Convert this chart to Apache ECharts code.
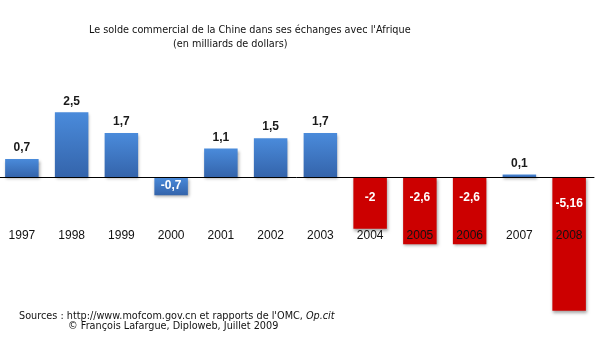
<!DOCTYPE html>
<html>
<head>
<meta charset="utf-8">
<script src="https://cdn.jsdelivr.net/npm/echarts@6/dist/echarts.min.js"></script>
<style>html,body{margin:0;padding:0;background:#fff}#c{width:600px;height:355px}</style>
</head>
<body>
<div id="c"></div>
<script>
var years = ['1997','1998','1999','2000','2001','2002','2003','2004','2005','2006','2007','2008'];
var balance = [0.7, 2.5, 1.7, -0.7, 1.1, 1.5, 1.7, -2, -2.6, -2.6, 0.1, -5.16];
var titleLine1 = "Le solde commercial de la Chine dans ses échanges avec l'Afrique";
var titleLine2 = "(en milliards de dollars)";
var sourceText = "Sources : http://www.mofcom.gov.cn et rapports de l'OMC, ";
var sourceItalic = "Op.cit";
var creditText = "© François Lafargue, Diploweb, Juillet 2009";

function fmt(v){ return String(v).replace('.', ','); }

var blue = new echarts.graphic.LinearGradient(0,0,0,1,[{offset:0,color:'#4a8bdb'},{offset:1,color:'#3464ab'}]);
var red = '#cc0000';

var data = balance.map(function(v){
  var neg = v < 0;
  var label;
  if (!neg) {
    label = {position:'top', distance:5, color:'#1a1a1a'};
  } else if (v > -1) {
    label = {position:'inside', color:'#fff'};
  } else {
    label = {position:'insideTop', distance: v < -4 ? 21 : 15, color:'#fff'};
  }
  return {
    value: v,
    itemStyle: {color: neg && v <= -1 ? red : blue},
    label: label
  };
});

var txt = {fontFamily:'DejaVu Sans', fontSize:9.7, fontWeight:'normal', color:'#111'};
var chart = echarts.init(document.getElementById('c'), null, {renderer:'canvas'});
chart.setOption({
  animation: false,
  title: [{
    text: titleLine1, left: 84, top: 20, textStyle: txt
  },{
    text: titleLine2, left: 168, top: 34, textStyle: txt
  },{
    text: '{n|' + sourceText + '}{i|' + sourceItalic + '}\n{c|' + creditText + '}',
    left: 14, top: 306,
    textStyle: {
      fontWeight: 'normal',
      rich: {
        n: {fontFamily:'DejaVu Sans', fontSize:9.7, fontWeight:'normal', color:'#111', lineHeight:10},
        i: {fontFamily:'DejaVu Sans', fontSize:9.7, fontWeight:'normal', fontStyle:'italic', color:'#111', lineHeight:10},
        c: {fontFamily:'DejaVu Sans', fontSize:9.7, fontWeight:'normal', color:'#111', lineHeight:10, padding:[0,0,0,49]}
      }
    }
  }],
  grid: {left: -3, width: 597, top: 99.3, height: 220.2, containLabel: false, outerBoundsMode: 'none'},
  xAxis: {
    type: 'category', data: years, z: 10,
    axisLine: {onZero: true, lineStyle: {color:'#000', width:1}},
    axisTick: {show: false},
    axisLabel: {margin: -90, fontFamily:'Liberation Sans', fontSize:12, color:'#111'}
  },
  yAxis: {type:'value', min:-5.5, max:3, show:false, splitLine:{show:false}},
  series: [{
    type: 'bar', data: data, barWidth: 33.5,
    itemStyle: {shadowColor:'rgba(0,0,0,0.35)', shadowBlur:3, shadowOffsetX:1, shadowOffsetY:2},
    label: {show: true, fontFamily:'Liberation Sans', fontSize:12, fontWeight:'bold',
      formatter: function(p){ return fmt(p.value); }}
  }]
});
</script>
</body>
</html>
